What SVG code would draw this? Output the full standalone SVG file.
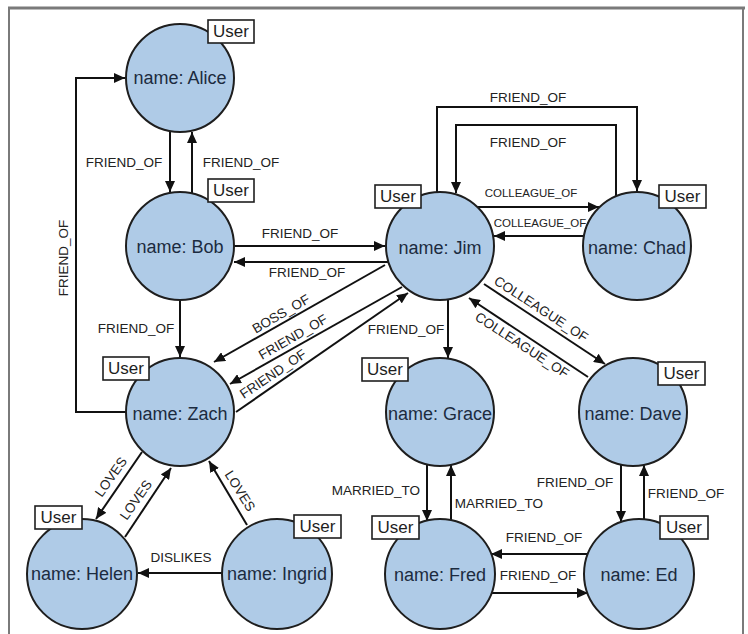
<svg xmlns="http://www.w3.org/2000/svg" width="748" height="634" viewBox="0 0 748 634">
<style>
.frame{stroke:#7a7a7a;fill:none}
.node circle{fill:#afcbe7;stroke:#1e1e1e;stroke-width:2}
.node .lbl{fill:#fff;stroke:#1e1e1e;stroke-width:1.6}
.ntext{font-family:"Liberation Sans",Arial,sans-serif;font-size:18px;fill:#1c2b3f;text-anchor:middle;dominant-baseline:central}
.utext{font-family:"Liberation Sans",Arial,sans-serif;font-size:17px;fill:#1e1e1e;text-anchor:middle;dominant-baseline:central}
.edge{stroke:#111;stroke-width:2;fill:none;marker-end:url(#arr)}
.el{font-family:"Liberation Sans",Arial,sans-serif;font-size:13.5px;fill:#222;text-anchor:middle;dominant-baseline:central}
.els{font-size:11.5px}
</style>
<defs>
<marker id="arr" markerUnits="userSpaceOnUse" markerWidth="12" markerHeight="10" refX="11" refY="5" orient="auto">
<path d="M0,0 L11,5 L0,10 z" fill="#111"/>
</marker>
</defs>
<rect width="748" height="634" fill="#fff"/>
<g id="frame">
<line class="frame" x1="8" y1="8" x2="745" y2="8" stroke-width="3"/>
<line class="frame" x1="9" y1="8" x2="9" y2="634" stroke-width="2"/>
<line class="frame" x1="743" y1="8" x2="743" y2="634" stroke-width="2"/>
</g>
<g id="connectors">
<path class="edge" d="M170,131 L170,192"/>
<text class="el" x="124" y="162">FRIEND_OF</text>
<path class="edge" d="M192,193 L192,132"/>
<text class="el" x="241" y="162">FRIEND_OF</text>
<path class="edge" d="M126,412 L76,412 L76,78 L125,78"/>
<text class="el" transform="translate(63,258) rotate(-90)">FRIEND_OF</text>
<path class="edge" d="M180,300 L180,357"/>
<text class="el" x="136" y="328">FRIEND_OF</text>
<path class="edge" d="M234,246 L385,246"/>
<text class="el" x="300" y="233">FRIEND_OF</text>
<path class="edge" d="M388,262 L234,262"/>
<text class="el" x="307" y="272">FRIEND_OF</text>
<path class="edge" d="M385,265 L214,362"/>
<text class="el" transform="translate(281,314) rotate(-30)">BOSS_OF</text>
<path class="edge" d="M402,287 L230,384"/>
<text class="el" transform="translate(293,337) rotate(-30)">FRIEND_OF</text>
<path class="edge" d="M236,412 L408,293"/>
<text class="el" transform="translate(273,374) rotate(-34)">FRIEND_OF</text>
<path class="edge" d="M448,299 L448,358"/>
<text class="el" x="406" y="329">FRIEND_OF</text>
<path class="edge" d="M437,192 L437,107 L637,107 L637,191"/>
<text class="el" x="528" y="97">FRIEND_OF</text>
<path class="edge" d="M616,197 L616,125 L456,125 L456,193"/>
<text class="el" x="528" y="142">FRIEND_OF</text>
<path class="edge" d="M477,207 L599,207"/>
<text class="el els" x="531" y="193">COLLEAGUE_OF</text>
<path class="edge" d="M584,236 L494,236"/>
<text class="el els" x="540" y="223">COLLEAGUE_OF</text>
<path class="edge" d="M484,284 L605,364"/>
<text class="el" transform="translate(541,309) rotate(33)">COLLEAGUE_OF</text>
<path class="edge" d="M588,377 L469,298"/>
<text class="el" transform="translate(522,345) rotate(33)">COLLEAGUE_OF</text>
<path class="edge" d="M427,464 L427,521"/>
<text class="el" x="376" y="490">MARRIED_TO</text>
<path class="edge" d="M451,521 L451,465"/>
<text class="el" x="499" y="503">MARRIED_TO</text>
<path class="edge" d="M621,465 L621,522"/>
<text class="el" x="575" y="482">FRIEND_OF</text>
<path class="edge" d="M644,520 L644,465"/>
<text class="el" x="686" y="493">FRIEND_OF</text>
<path class="edge" d="M589,554 L491,554"/>
<text class="el" x="544" y="537">FRIEND_OF</text>
<path class="edge" d="M491,593 L588,593"/>
<text class="el" x="538" y="575">FRIEND_OF</text>
<path class="edge" d="M142,452 L96,519"/>
<text class="el" transform="translate(111,477) rotate(-55)">LOVES</text>
<path class="edge" d="M125,537 L171,468"/>
<text class="el" transform="translate(136,500) rotate(-55)">LOVES</text>
<path class="edge" d="M247,525 L209,461"/>
<text class="el" transform="translate(240,491) rotate(58)">LOVES</text>
<path class="edge" d="M222,573 L138,573"/>
<text class="el" x="181" y="557">DISLIKES</text>
</g>
<g id="node-alice" class="node"><circle cx="180" cy="78" r="54"/><rect class="lbl" x="208" y="20" width="46" height="23"/><text class="utext" x="231" y="31.5">User</text><text class="ntext" x="180" y="78">name: Alice</text></g>
<g id="node-bob" class="node"><circle cx="180" cy="246" r="54"/><rect class="lbl" x="208" y="179" width="46" height="23"/><text class="utext" x="231" y="190.5">User</text><text class="ntext" x="180" y="247">name: Bob</text></g>
<g id="node-zach" class="node"><circle cx="180" cy="412" r="54"/><rect class="lbl" x="103" y="357" width="46" height="23"/><text class="utext" x="126" y="368.5">User</text><text class="ntext" x="180" y="414">name: Zach</text></g>
<g id="node-helen" class="node"><circle cx="82" cy="574" r="55"/><rect class="lbl" x="35" y="506" width="47" height="23"/><text class="utext" x="58.5" y="517.5">User</text><text class="ntext" x="82" y="574">name: Helen</text></g>
<g id="node-ingrid" class="node"><circle cx="277" cy="574" r="55"/><rect class="lbl" x="294" y="515" width="47" height="23"/><text class="utext" x="317.5" y="526.5">User</text><text class="ntext" x="277" y="574">name: Ingrid</text></g>
<g id="node-jim" class="node"><circle cx="440" cy="246" r="54"/><rect class="lbl" x="375" y="185" width="46" height="23"/><text class="utext" x="398" y="196.5">User</text><text class="ntext" x="440" y="248">name: Jim</text></g>
<g id="node-chad" class="node"><circle cx="637" cy="246" r="54"/><rect class="lbl" x="659" y="185" width="47" height="23"/><text class="utext" x="682.5" y="196.5">User</text><text class="ntext" x="637" y="248">name: Chad</text></g>
<g id="node-grace" class="node"><circle cx="440" cy="412" r="54"/><rect class="lbl" x="362" y="358" width="46" height="23"/><text class="utext" x="385" y="369.5">User</text><text class="ntext" x="440" y="414">name: Grace</text></g>
<g id="node-dave" class="node"><circle cx="633" cy="412" r="54"/><rect class="lbl" x="658" y="362" width="47" height="23"/><text class="utext" x="681.5" y="373.5">User</text><text class="ntext" x="633" y="414">name: Dave</text></g>
<g id="node-fred" class="node"><circle cx="440" cy="574" r="55"/><rect class="lbl" x="372" y="516" width="47" height="23"/><text class="utext" x="395.5" y="527.5">User</text><text class="ntext" x="440" y="575">name: Fred</text></g>
<g id="node-ed" class="node"><circle cx="639" cy="574" r="55"/><rect class="lbl" x="660" y="516" width="48" height="23"/><text class="utext" x="684" y="527.5">User</text><text class="ntext" x="639" y="575">name: Ed</text></g>
</svg>
